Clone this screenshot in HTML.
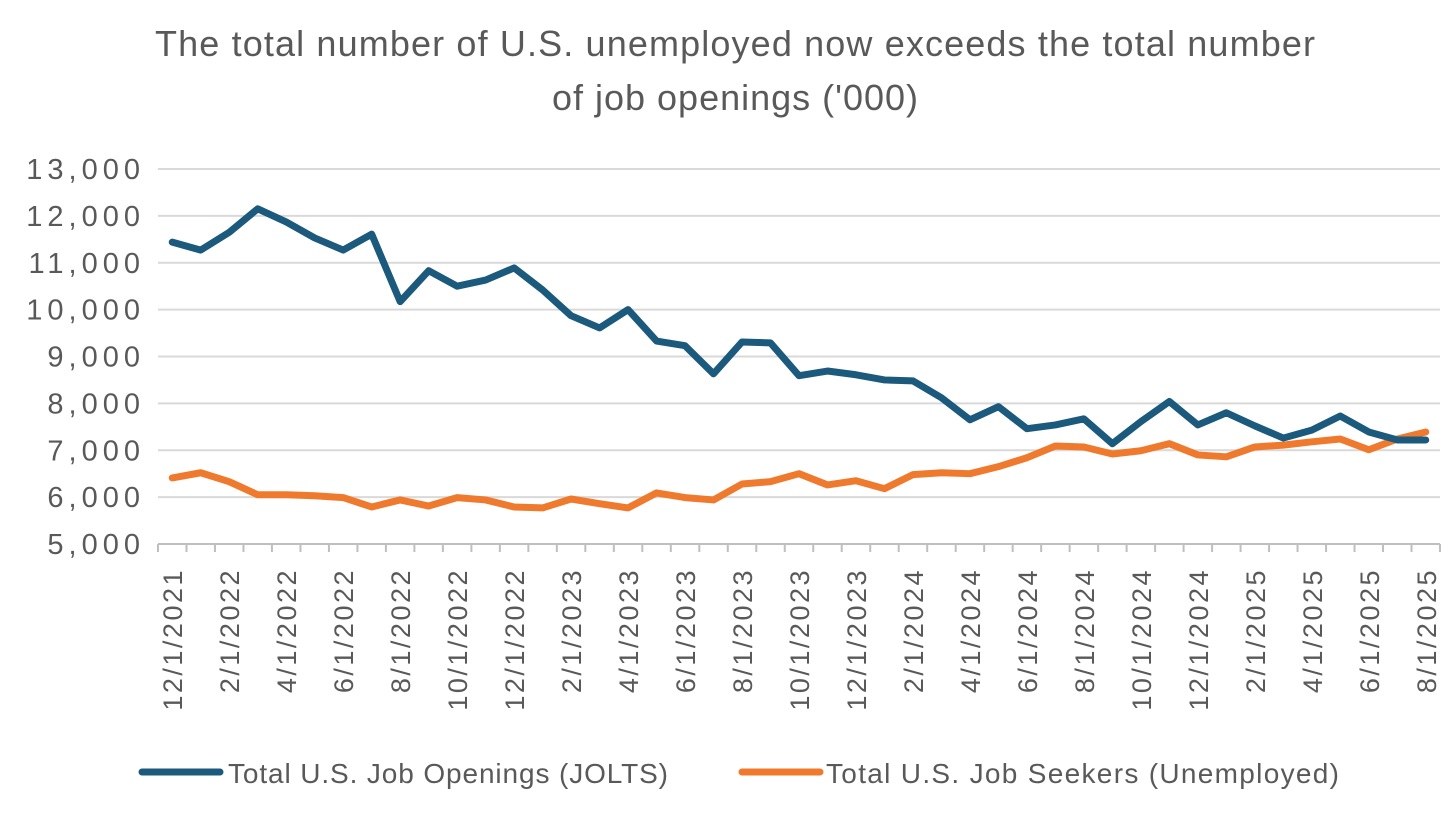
<!DOCTYPE html>
<html><head><meta charset="utf-8"><style>
body{margin:0;background:#fff;}
svg{display:block;font-family:"Liberation Sans",sans-serif;}
</style></head><body>
<svg id="chart" width="1456" height="818">
<text x="735" y="56" text-anchor="middle" font-size="36" fill="#595959" textLength="1160" lengthAdjust="spacing">The total number of U.S. unemployed now exceeds the total number</text>
<text x="735" y="110" text-anchor="middle" font-size="36" fill="#595959" textLength="366" lengthAdjust="spacing">of job openings ('000)</text>
<g id="grid"></g><g id="yticks"></g><g id="xticks"></g><g id="series"></g>
<g>
<line x1="142" y1="772" x2="220" y2="772" stroke="#1b5a7d" stroke-width="7" stroke-linecap="round"/>
<text x="228" y="783" font-size="28" fill="#595959" textLength="440" lengthAdjust="spacing">Total U.S. Job Openings (JOLTS)</text>
<line x1="742" y1="772" x2="820" y2="772" stroke="#ef7a2d" stroke-width="7" stroke-linecap="round"/>
<text x="826" y="783" font-size="28" fill="#595959" textLength="513" lengthAdjust="spacing">Total U.S. Job Seekers (Unemployed)</text>
</g>
</svg>
<script>
const openings=[11440,11270,11650,12150,11870,11530,11270,11610,10170,10830,10500,10630,10890,10420,9870,9610,10000,9330,9230,8630,9310,9290,8590,8690,8610,8500,8480,8120,7650,7930,7460,7540,7670,7140,7610,8040,7540,7800,7520,7260,7430,7730,7390,7220,7220];
const seekers=[6410,6520,6330,6050,6050,6030,5990,5790,5940,5810,5990,5940,5790,5770,5960,5860,5770,6090,5990,5940,6280,6330,6500,6260,6350,6180,6480,6520,6500,6650,6840,7090,7070,6920,6990,7140,6900,6860,7070,7110,7180,7240,7010,7240,7390];
const yTicks=[5000,6000,7000,8000,9000,10000,11000,12000,13000];
const startYear=2021, startMonth=12;
const NS="http://www.w3.org/2000/svg";
const L=158,R=1440,T=169,B=544;
const n=openings.length, step=(R-L)/n;
const x=i=>L+step*(i+0.5);
const y=v=>B-(v-5000)/8000*(B-T);
function mk(tag,attrs,parent){const e=document.createElementNS(NS,tag);for(const k in attrs)e.setAttribute(k,attrs[k]);document.getElementById(parent).appendChild(e);return e;}
yTicks.forEach(v=>{
 const g=mk('line',{x1:L,x2:R,y1:y(v),y2:y(v),stroke:v===5000?'#bfbfbf':'#d9d9d9','stroke-width':2},'grid');
 
 
 const t=mk('text',{x:L-13,y:y(v)+10,'text-anchor':'end','font-size':29,'letter-spacing':5,fill:'#595959'},'yticks');
 t.textContent=v.toLocaleString('en-US');
 
 
});
for(let i=0;i<=n;i++){
 const tk=mk('line',{x1:L+step*i,x2:L+step*i,y1:B,y2:B+8,stroke:'#bfbfbf','stroke-width':2},'xticks');
 
 
}
for(let i=0;i<n;i+=2){
 let m=startMonth+i, yr=startYear;
 while(m>12){m-=12;yr++;}
 const t=mk('text',{transform:`translate(${x(i)+10},${B+24}) rotate(-90)`,'text-anchor':'end','font-size':27,'letter-spacing':2.5,fill:'#595959'},'xticks');
 t.textContent=`${m}/1/${yr}`;
 
 
}
function line(data,color,name){
 const p=mk('polyline',{points:data.map((v,i)=>x(i)+','+y(v)).join(' '),fill:'none',stroke:color,'stroke-width':7,'stroke-linejoin':'round','stroke-linecap':'round'},'series');
 
 
}
line(seekers,'#ef7a2d','series-job-seekers');
line(openings,'#1b5a7d','series-job-openings');
</script>
</body></html>
